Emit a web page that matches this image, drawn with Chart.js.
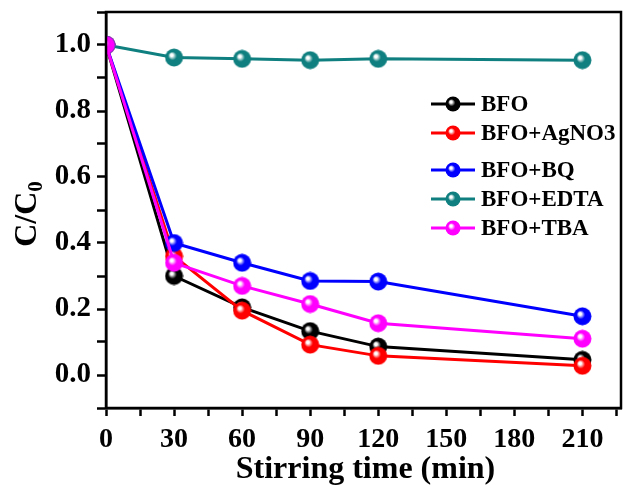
<!DOCTYPE html>
<html>
<head>
<meta charset="utf-8">
<script src="https://cdn.jsdelivr.net/npm/chart.js@4.4.1/dist/chart.umd.min.js"></script>
<style>
  html, body { margin: 0; padding: 0; background: #fff; }
  #wrap { width: 633px; height: 488px; }
</style>
</head>
<body>
<div id="wrap"><canvas id="chart" width="633" height="488"></canvas></div>
<script>
// data
const times = [0, 30, 60, 90, 120, 210];
const bfo = [1.0, 0.30, 0.205, 0.133, 0.086, 0.046];
const bfoAgNO3 = [1.0, 0.36, 0.195, 0.092, 0.058, 0.028];
const bfoBQ = [1.0, 0.40, 0.34, 0.285, 0.283, 0.178];
const bfoEDTA = [1.0, 0.962, 0.958, 0.954, 0.958, 0.954];
const bfoTBA = [1.0, 0.34, 0.27, 0.215, 0.157, 0.11];

const seriesNames = ['BFO', 'BFO+AgNO3', 'BFO+BQ', 'BFO+EDTA', 'BFO+TBA'];
const seriesData = [bfo, bfoAgNO3, bfoBQ, bfoEDTA, bfoTBA];
const seriesColors = ['#000000', '#ff0000', '#0000ff', '#0f7f7f', '#ff00ff'];

const FONT = '"Liberation Serif", "Times New Roman", serif';

// shaded ball used as marker
function makeBall(color, size) {
    let c = document.createElement('canvas');
    c.width = size; c.height = size;
    let g = c.getContext('2d');
    let r = size / 2;
    let grad = g.createRadialGradient(r - r * 0.3, r - r * 0.3, 0, r, r, r);
    grad.addColorStop(0, '#ffffff');
    grad.addColorStop(0.15, '#ffffff');
    grad.addColorStop(0.45, color);
    grad.addColorStop(1, color);
    g.fillStyle = grad;
    g.beginPath();
    g.arc(r, r, r - 0.5, 0, Math.PI * 2);
    g.fill();
    return c;
}

const balls = seriesColors.map(c => makeBall(c, 19));
const legendBalls = seriesColors.map(c => makeBall(c, 16));

let datasets = seriesNames.map((name, i) => ({
    label: name,
    data: times.map((t, j) => ({ x: t, y: seriesData[i][j] })),
    borderColor: seriesColors[i],
    backgroundColor: seriesColors[i],
    borderWidth: 3,
    pointStyle: balls[i],
    pointRadius: 9,
    tension: 0,
    order: seriesNames.length - i
}));

// frame, titles and legend
const extras = {
    id: 'extras',
    afterDraw(chart) {
        const ctx = chart.ctx;
        const a = chart.chartArea;
        ctx.save();
        ctx.strokeStyle = '#000';
        ctx.lineWidth = 2.5;
        ctx.strokeRect(a.left, a.top, a.right - a.left, a.bottom - a.top);

        ctx.fillStyle = '#000';
        ctx.font = 'bold 32px ' + FONT;
        ctx.textAlign = 'center';
        ctx.textBaseline = 'middle';
        ctx.fillText('Stirring time (min)', (a.left + a.right) / 2 + 2, 470);

        // y title C/C0
        ctx.translate(28, 214);
        ctx.rotate(-Math.PI / 2);
        ctx.textAlign = 'left';
        ctx.font = 'bold 32px ' + FONT;
        let w1 = ctx.measureText('C/C').width;
        ctx.font = 'bold 21px ' + FONT;
        let w2 = ctx.measureText('0').width;
        let x0 = -(w1 + w2) / 2;
        ctx.font = 'bold 32px ' + FONT;
        ctx.fillText('C/C', x0, 0);
        ctx.font = 'bold 21px ' + FONT;
        ctx.fillText('0', x0 + w1, 9);
        ctx.restore();

        // legend
        const rows = [104, 133, 170, 199, 228];
        ctx.save();
        ctx.textBaseline = 'middle';
        ctx.textAlign = 'left';
        rows.forEach((y, i) => {
            ctx.strokeStyle = seriesColors[i];
            ctx.lineWidth = 3;
            ctx.beginPath();
            ctx.moveTo(431, y);
            ctx.lineTo(475, y);
            ctx.stroke();
            ctx.drawImage(legendBalls[i], 453 - 8, y - 8);
            ctx.fillStyle = '#000';
            ctx.font = 'bold 23px ' + FONT;
            ctx.fillText(seriesNames[i], 481, y + 1);
        });
        ctx.restore();
    }
};

const ctx = document.getElementById('chart').getContext('2d');
let globalChart = new Chart(ctx, {
    type: 'line',
    data: { datasets },
    options: {
        responsive: false,
        animation: false,
        // border width eats a few px, so these are a bit smaller than the target gaps
        layout: { padding: { left: 0, right: 3, top: 10, bottom: 0 } },
        plugins: { legend: { display: false }, tooltip: { enabled: false } },
        scales: {
            x: {
                type: 'linear',
                min: 0,
                max: 227,
                afterFit: s => { s.height = 80; s.paddingLeft = 0; s.paddingRight = 0; },
                border: { display: true, color: '#000', width: 2.5 },
                grid: { drawOnChartArea: false, drawTicks: true, tickLength: 8, tickWidth: 2.5, tickColor: '#000' },
                ticks: {
                    stepSize: 15,
                    includeBounds: false,
                    autoSkip: false,
                    maxRotation: 0,
                    padding: 7,
                    color: '#000',
                    font: { family: FONT, size: 28, weight: 'bold' },
                    callback: v => (v % 30 === 0 ? String(v) : '')
                }
            },
            y: {
                min: -0.1,
                max: 1.1,
                afterFit: s => { s.width = 106; s.paddingTop = 0; s.paddingBottom = 0; },
                border: { display: true, color: '#000', width: 2.5 },
                grid: { drawOnChartArea: false, drawTicks: true, tickLength: 9, tickWidth: 2.5, tickColor: '#000' },
                ticks: {
                    stepSize: 0.1,
                    autoSkip: false,
                    padding: 6,
                    color: '#000',
                    font: { family: FONT, size: 29, weight: 'bold' },
                    callback: v => (Math.round(v * 10) % 2 === 0 ? v.toFixed(1) : '')
                }
            }
        }
    },
    plugins: [extras]
});
</script>
</body>
</html>
